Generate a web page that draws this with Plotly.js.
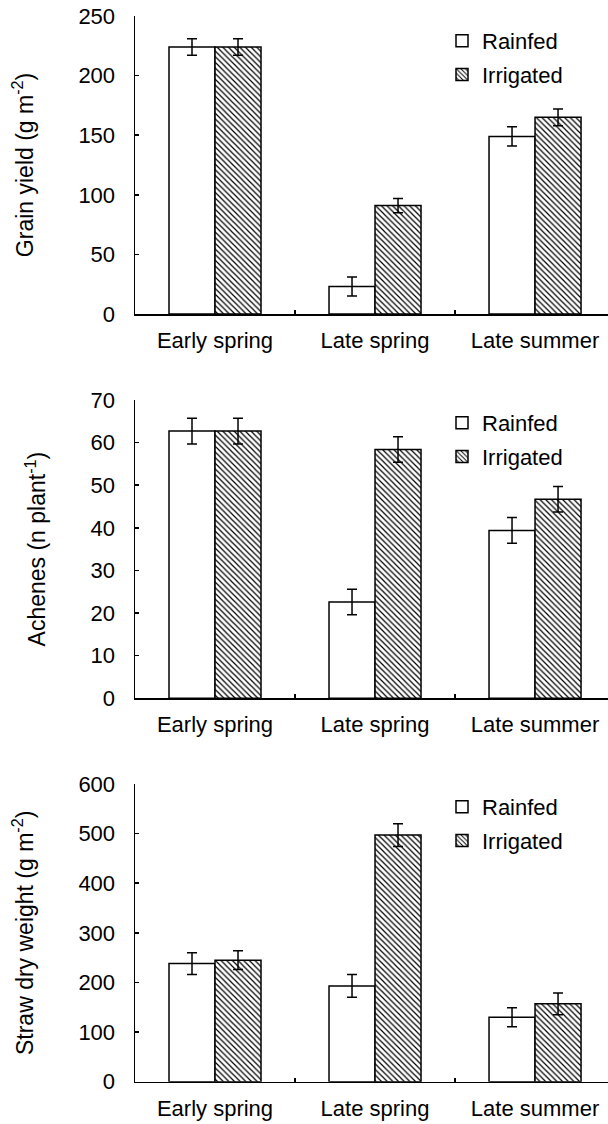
<!DOCTYPE html>
<html>
<head>
<meta charset="utf-8">
<script src="https://cdn.plot.ly/plotly-3.0.1.min.js"></script>
<style>html,body{margin:0;padding:0;background:#fff;}#chart{width:608px;height:1124px;}</style>
</head>
<body>
<div id="chart"></div>
<script>
const categories = ['Early spring', 'Late spring', 'Late summer'];
const seriesNames = ['Rainfed', 'Irrigated'];

const grainRainfed = [224, 23, 149];
const grainRainfedErr = [7, 8, 8];
const grainIrrigated = [224, 91, 165];
const grainIrrigatedErr = [7, 6, 7];

const achenesRainfed = [62.7, 22.6, 39.4];
const achenesRainfedErr = [3, 3, 3];
const achenesIrrigated = [62.7, 58.4, 46.7];
const achenesIrrigatedErr = [3, 3, 3];

const strawRainfed = [238, 193, 130];
const strawRainfedErr = [22, 23, 19];
const strawIrrigated = [245, 497, 157];
const strawIrrigatedErr = [19, 23, 22];

const yTitles = ['Grain yield (g m<sup>-2</sup>)', 'Achenes (n plant<sup>-1</sup>)', 'Straw dry weight (g m<sup>-2</sup>)'];
const yRanges = [[0, 250], [0, 70], [0, 600]];
const yDticks = [50, 10, 100];

const FONT = 'Liberation Sans, Arial, sans-serif';

function bar(name, y, err, axisIdx, hatched) {
  const sfx = axisIdx === 1 ? '' : String(axisIdx);
  return {
    type: 'bar', name: name, x: categories, y: y,
    xaxis: 'x' + sfx, yaxis: 'y' + sfx,
    legend: axisIdx === 1 ? 'legend' : 'legend' + axisIdx,
    legendgroup: name + axisIdx,
    marker: {
      color: '#ffffff',
      line: {color: '#000000', width: 1.5},
      pattern: hatched ? {shape: '\\', fgcolor: '#000000', bgcolor: '#ffffff', size: 4, solidity: 0.3} : {shape: ''}
    },
    error_y: {type: 'data', array: err, visible: true, color: '#000000', thickness: 1.5, width: 5}
  };
}

const data = [
  bar(seriesNames[0], grainRainfed, grainRainfedErr, 1, false),
  bar(seriesNames[1], grainIrrigated, grainIrrigatedErr, 1, true),
  bar(seriesNames[0], achenesRainfed, achenesRainfedErr, 2, false),
  bar(seriesNames[1], achenesIrrigated, achenesIrrigatedErr, 2, true),
  bar(seriesNames[0], strawRainfed, strawRainfedErr, 3, false),
  bar(seriesNames[1], strawIrrigated, strawIrrigatedErr, 3, true)
];

const H = 1124;
const panels = [[16, 314], [400, 698.3], [784, 1081.7]];
const legendTops = [20, 402, 786];

const layout = {
  width: 608, height: 1124,
  margin: {l: 0, r: 0, t: 0, b: 0},
  paper_bgcolor: '#ffffff', plot_bgcolor: '#ffffff',
  barmode: 'group', bargap: 0.425, bargroupgap: 0,
  font: {family: FONT, size: 22, color: '#000000'},
  showlegend: true
};

for (let i = 0; i < 3; i++) {
  const sfx = i === 0 ? '' : String(i + 1);
  const [top, bot] = panels[i];
  layout['xaxis' + sfx] = {
    type: 'category', range: [-0.5, 2.456],
    domain: [135 / 608, 1],
    anchor: 'y' + sfx,
    showline: true, linecolor: '#000', linewidth: 1.5,
    ticks: 'inside', ticklen: 4, tickwidth: 1.5, tickcolor: '#000',
    tickson: 'boundaries',
    showgrid: false, zeroline: false,
    tickfont: {family: FONT, size: 22, color: '#000'},
    ticklabelstandoff: 6,
    fixedrange: true
  };
  layout['yaxis' + sfx] = {
    domain: [1 - bot / H, 1 - top / H],
    anchor: 'x' + sfx,
    range: yRanges[i], dtick: yDticks[i], tick0: 0,
    showline: true, linecolor: '#000', linewidth: 1.5,
    ticks: 'inside', ticklen: 4, tickwidth: 1.5, tickcolor: '#000',
    showgrid: false, zeroline: false,
    tickfont: {family: FONT, size: 22, color: '#000'},
    ticklabelstandoff: 14,
    title: {text: yTitles[i], font: {family: FONT, size: 23, color: '#000'}, standoff: 38},
    fixedrange: true
  };
  layout[i === 0 ? 'legend' : 'legend' + (i + 1)] = {
    x: 442 / 608, xanchor: 'left',
    y: 1 - legendTops[i] / H, yanchor: 'top',
    bgcolor: 'rgba(0,0,0,0)', borderwidth: 0,
    font: {family: FONT, size: 22, color: '#000'},
    traceorder: 'grouped', tracegroupgap: 2,
    itemwidth: 30
  };
}

Plotly.newPlot('chart', data, layout, {staticPlot: true, displayModeBar: false});
</script>
</body>
</html>
